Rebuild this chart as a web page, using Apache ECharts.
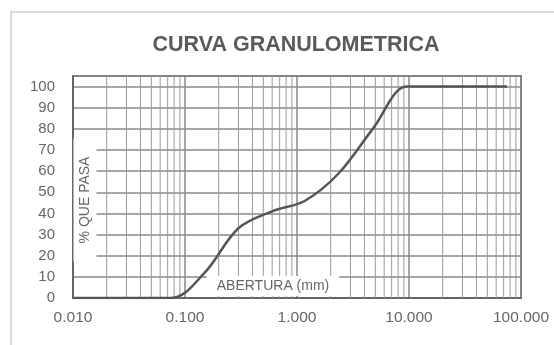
<!DOCTYPE html>
<html>
<head>
<meta charset="utf-8">
<script src="https://cdn.jsdelivr.net/npm/echarts@6/dist/echarts.min.js"></script>
<style>
html,body{margin:0;padding:0;background:#fff;}
#chart{width:554px;height:345px;}
</style>
</head>
<body>
<div id="chart"></div>
<script>
// Data
const titleText = 'CURVA GRANULOMETRICA';
const xAxisName = 'ABERTURA (mm)';
const yAxisName = '% QUE PASA';
const aperturas = [0.01, 0.075, 0.15, 0.3, 0.6, 1.18, 2.36, 4.75, 9.5, 12.5, 19, 25, 37.5, 50, 75];
const pasa      = [0,    0,     12,   33,  41,  46,   59,   80,   100, 100,  100, 100, 100, 100, 100];
const yTicks = [0, 10, 20, 30, 40, 50, 60, 70, 80, 90, 100];
const xTickLabels = ['0.010', '0.100', '1.000', '10.000', '100.000'];

// minor log gridlines (2..9 within each decade)
const minorGrid = [];
[0.01, 0.1, 1, 10].forEach(function (d) {
  for (let k = 2; k <= 9; k++) minorGrid.push([+(d * k).toPrecision(6), 0]);
});

const chart = echarts.init(document.getElementById('chart'));
chart.setOption({
  animation: false,
  backgroundColor: '#fff',
  title: {
    text: titleText,
    left: 291, top: 29, textAlign: 'center',
    textStyle: { fontFamily: 'Liberation Sans, Arial', fontSize: 21.5, fontWeight: 'bold', color: '#5a5a5a' }
  },
  grid: {
    left: 73, right: 33, top: 76, bottom: 47,
    show: true, borderColor: '#777', borderWidth: 2, backgroundColor: 'transparent'
  },
  xAxis: {
    type: 'log', logBase: 10, min: 0.01, max: 100,
    axisLine: { show: true, lineStyle: { color: '#666', width: 2 } },
    axisTick: { show: false },
    axisLabel: {
      margin: 12, fontFamily: 'Liberation Sans, Arial', fontSize: 15.5, color: '#666',
      formatter: function (v) {
        const i = Math.round(Math.log10(v)) + 2;
        return xTickLabels[i] !== undefined ? xTickLabels[i] : '';
      }
    },
    splitLine: { show: true, lineStyle: { color: '#888', width: 1.5 } },
    minorTick: { show: false },
    minorSplitLine: { show: false }
  },
  yAxis: {
    type: 'value', min: 0, max: 105, interval: 10,
    axisLine: { show: true, lineStyle: { color: '#666', width: 2 } },
    axisTick: { show: false },
    axisLabel: {
      margin: 18, fontFamily: 'Liberation Sans, Arial', fontSize: 15, color: '#666',
      formatter: function (v) { return yTicks.indexOf(v) >= 0 ? String(v) : ''; }
    },
    splitLine: { show: true, lineStyle: { color: '#888', width: 1.5 } }
  },
  series: [
    {
      type: 'custom',
      z: 1,
      silent: true,
      data: minorGrid,
      encode: { x: 0, y: 1 },
      renderItem: function (params, api) {
        const v = api.value(0);
        const p1 = api.coord([v, 0]);
        const p2 = api.coord([v, 105]);
        return {
          type: 'line',
          shape: { x1: p1[0], y1: p1[1], x2: p2[0], y2: p2[1] },
          style: { stroke: '#9a9a9a', lineWidth: 1 }
        };
      }
    },
    {
      type: 'line',
      z: 10,
      data: aperturas.map(function (a, i) { return [a, pasa[i]]; }),
      smooth: 0.35,
      showSymbol: false,
      lineStyle: { color: '#555', width: 2.5 }
    }
  ],
  graphic: [
    {
      type: 'rect', z: 0, silent: true,
      shape: { x: 11, y: 12, width: 600, height: 400 },
      style: { fill: 'none', stroke: '#cfcfcf', lineWidth: 1.5 }
    },
    {
      type: 'text', z: 5, silent: true,
      x: 85, y: 200, rotation: Math.PI / 2,
      style: {
        text: yAxisName, fontFamily: 'Liberation Sans, Arial', fontSize: 14, fill: '#666',
        align: 'center', verticalAlign: 'middle',
        backgroundColor: '#fff', padding: [5, 18, 4, 18]
      }
    },
    {
      type: 'text', z: 5, silent: true,
      x: 273, y: 286,
      style: {
        text: xAxisName, fontFamily: 'Liberation Sans, Arial', fontSize: 14, fill: '#666',
        align: 'center', verticalAlign: 'middle',
        backgroundColor: '#fff', padding: [5, 10, 1, 10]
      }
    }
  ]
});
</script>
</body>
</html>
